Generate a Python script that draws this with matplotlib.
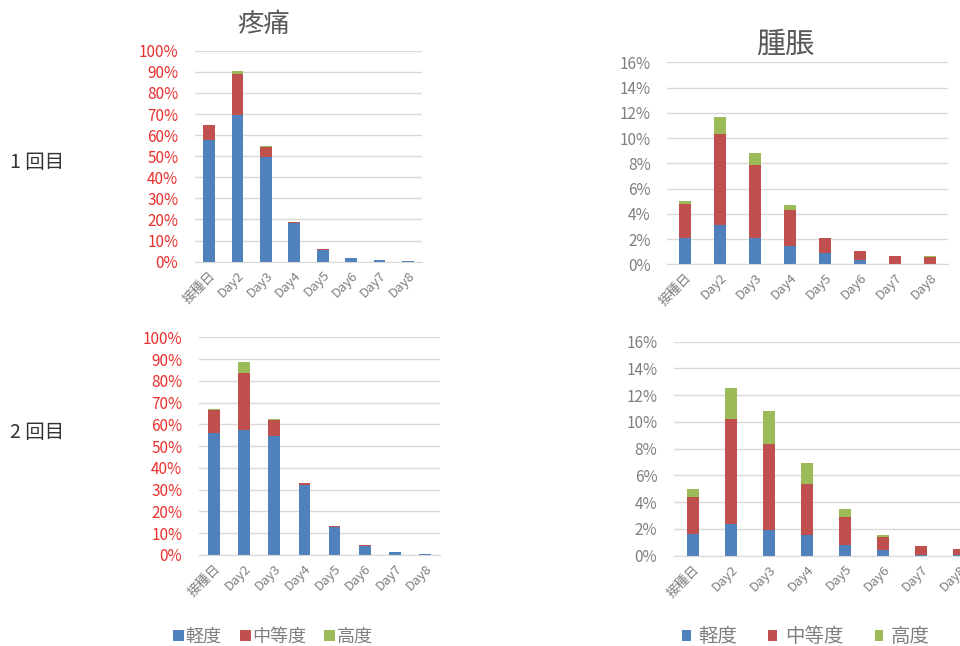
import matplotlib
matplotlib.use("Agg")
import matplotlib.pyplot as plt
import numpy as np
from matplotlib.ticker import PercentFormatter

plt.rcParams['font.family'] = ['Noto Sans CJK JP', 'DejaVu Sans']

days = ['接種日', 'Day2', 'Day3', 'Day4', 'Day5', 'Day6', 'Day7', 'Day8']
levels = ['軽度', '中等度', '高度']
colors = ['#4F81BD', '#C0504D', '#9BBB59']

# 疼痛 (%)
pain1_mild = [57.7, 69.5, 49.8, 18.3, 5.7, 1.8, 0.9, 0.4]
pain1_mod = [7.0, 19.5, 4.7, 0.3, 0.1, 0.1, 0.1, 0.1]
pain1_sev = [0.3, 1.3, 0.1, 0.0, 0.0, 0.0, 0.0, 0.0]

pain2_mild = [56.0, 57.4, 54.7, 32.0, 13.0, 4.3, 1.3, 0.5]
pain2_mod = [10.4, 26.3, 7.3, 0.9, 0.3, 0.1, 0.1, 0.1]
pain2_sev = [0.7, 4.8, 0.5, 0.1, 0.0, 0.0, 0.0, 0.0]

# 腫脹 (%)
swell1_mild = [2.05, 3.1, 2.05, 1.45, 0.87, 0.3, 0.05, 0.05]
swell1_mod = [2.7, 7.25, 5.8, 2.85, 1.23, 0.72, 0.62, 0.55]
swell1_sev = [0.25, 1.3, 0.93, 0.4, 0.0, 0.03, 0.02, 0.03]

swell2_mild = [1.6, 2.4, 1.9, 1.55, 0.8, 0.4, 0.05, 0.05]
swell2_mod = [2.8, 7.85, 6.45, 3.8, 2.1, 1.0, 0.65, 0.42]
swell2_sev = [0.6, 2.3, 2.45, 1.6, 0.6, 0.15, 0.05, 0.03]

fig = plt.figure(figsize=(9.6, 6.46), dpi=100)


def stacked(rect, series, width, ymax, ystep, tick_color):
    ax = fig.add_axes(rect)
    x = np.arange(len(days))
    bottom = np.zeros(len(days))
    bars = []
    for vals, c, lab in zip(series, colors, levels):
        b = ax.bar(x, vals, width, bottom=bottom, color=c, label=lab, zorder=3)
        bars.append(b)
        bottom += np.array(vals)
    ax.set_xlim(-0.5, len(days) - 0.5)
    ax.set_ylim(0, ymax)
    ax.set_yticks(np.arange(0, ymax + ystep / 2, ystep))
    ax.yaxis.set_major_formatter(PercentFormatter(decimals=0))
    ax.grid(axis='y', color='#d9d9d9', linewidth=1, zorder=0)
    for s in ['top', 'right', 'left']:
        ax.spines[s].set_visible(False)
    ax.spines['bottom'].set_color('#d9d9d9')
    ax.spines['bottom'].set_zorder(4)
    ax.tick_params(axis='y', length=0, pad=12, labelsize=11, labelcolor=tick_color)
    ax.tick_params(axis='x', length=0, pad=5, labelsize=9.5, labelcolor='#7f7f7f')
    ax.set_xticks(x)
    ax.set_xticklabels(days, rotation=45, ha='right', rotation_mode='anchor')
    ax.set_facecolor('none')
    return ax, bars


ax1, _ = stacked([0.2031, 0.5949, 0.2365, 0.3266], [pain1_mild, pain1_mod, pain1_sev],
                 0.41, 100, 10, '#e8302c')
ax2, pain_bars = stacked([0.2073, 0.1409, 0.2510, 0.3370], [pain2_mild, pain2_mod, pain2_sev],
                         0.39, 100, 10, '#e8302c')
ax3, _ = stacked([0.6953, 0.5909, 0.2917, 0.3127], [swell1_mild, swell1_mod, swell1_sev],
                 0.32, 16, 2, '#7f7f7f')
ax4, swell_bars = stacked([0.7021, 0.1398, 0.3167, 0.3313], [swell2_mild, swell2_mod, swell2_sev],
                          0.32, 16, 2, '#7f7f7f')

# titles
fig.text(264 / 960, 1 - 25 / 646, '疼痛', ha='center', va='center', fontsize=19, color='#595959')
fig.text(785 / 960, 1 - 45 / 646, '腫脹', ha='center', va='center', fontsize=21, color='#595959')

# row labels
fig.text(10 / 960, 1 - 163 / 646, '1 回目', ha='left', va='center', fontsize=14, color='#333333')
fig.text(10 / 960, 1 - 433 / 646, '2 回目', ha='left', va='center', fontsize=14, color='#333333')

# legends
fig.legend(handles=pain_bars, labels=levels, loc='center', bbox_to_anchor=(273 / 960, 1 - 637 / 646),
           ncol=3, frameon=False, fontsize=13, handlelength=0.6, handleheight=0.6,
           handletextpad=0.1, columnspacing=1.0, labelcolor='#7f7f7f')
fig.legend(handles=swell_bars, labels=levels, loc='center', bbox_to_anchor=(806 / 960, 1 - 637 / 646),
           ncol=3, frameon=False, fontsize=14, handlelength=0.45, handleheight=0.45,
           handletextpad=0.4, columnspacing=1.6, labelcolor='#7f7f7f')

fig.savefig('out.png', dpi=100)
